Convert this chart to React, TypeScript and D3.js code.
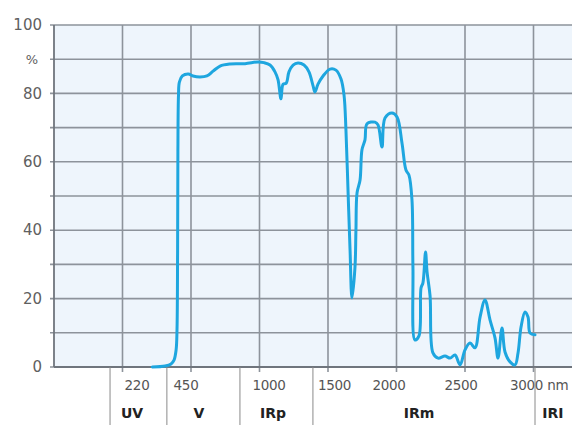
import React from "react";
import * as d3 from "d3";

// wavelength tick values (nm), evenly spaced on the axis
const xTickValues = [220, 450, 1000, 1500, 2000, 2500, 3000];
const xTickLabels = ["220", "450", "1000", "1500", "2000", "2500", "3000 nm"];
const yTickValues = [0, 20, 40, 60, 80, 100];
const yTickLabels = ["0", "20", "40", "60", "80", "100"];
const bandNames = ["UV", "V", "IRp", "IRm", "IRI"];
const bandCenters = [252, 514, 1099, 2164, 3142]; // nm, label positions
const bandEdges = [180, 369, 843, 1390, 3011]; // nm, separator positions

const wavelength = [
  320, 363, 383, 393, 400, 403, 405, 406, 408, 411, 421, 441, 466, 522, 578, 627, 683, 763, 884, 988,
  1033, 1077, 1113, 1135, 1157, 1172, 1195, 1215, 1245, 1281, 1325, 1361, 1391, 1405, 1427, 1464, 1515, 1558, 1595, 1617,
  1631, 1646, 1661, 1675, 1697, 1704, 1712, 1734, 1748, 1770, 1785, 1843, 1865, 1894, 1916, 1967, 2004, 2040, 2069, 2091,
  2113, 2120, 2135, 2164, 2179, 2193, 2212, 2223, 2245, 2266, 2303, 2354, 2391, 2427, 2464, 2500, 2537, 2573, 2610, 2646,
  2683, 2719, 2741, 2770, 2792, 2829, 2865, 2887, 2909, 2938, 2960, 2975, 3011,
];
const transmission = [
  0, 0.3, 0.9, 2.0, 5.0, 10.8, 34, 63, 79.5, 83.3, 85.1, 85.7, 85.1, 84.8, 85.1, 86.5, 88.0, 88.6, 88.7, 89.2,
  89.0, 88.3, 86.3, 84, 78.4, 82.7, 83.0, 86.3, 88.3, 88.9, 88.3, 86.3, 82.2, 80.4, 82.7, 85.1, 87.1, 86.8, 84.2, 79.5,
  69.3, 51.8, 34.2, 20.2, 29.2, 40.1, 50.9, 54.7, 63.5, 66.4, 71.1, 71.6, 70.8, 64.3, 72.8, 74.3, 73.1, 65.5, 57.6, 56.1,
  48.8, 29.2, 7.9, 9.1, 23.1, 24.6, 33.6, 27.8, 20.8, 4.1, 2.6, 3.2, 2.6, 3.5, 0.6, 5.0, 7.0, 5.6, 14.6, 19.6,
  13.7, 8.5, 2.6, 11.4, 4.4, 1.5, 0.6, 4.1, 11.7, 16.1, 14.6, 9.9, 9.4,
];

const W = 572;
const H = 425;
const left = 54;
const top = 25;
const bottom = 367;
const step = 68.5;
const labelShift = [14.5, -5, 9.5, 6.5, -7.5, -4, -23.5];

export default function App() {
  const xDomain = [0, ...xTickValues, 3500];
  const xRange = xDomain.map((_, i) => left + i * step);
  const x = d3.scaleLinear().domain(xDomain).range(xRange);
  const y = d3.scaleLinear().domain([0, 100]).range([bottom, top]);

  const data = wavelength.map((w, i) => [w, transmission[i]] as [number, number]);
  const line = d3
    .line<[number, number]>()
    .x((d) => x(d[0]))
    .y((d) => y(d[1]))
    .curve(d3.curveCatmullRom.alpha(0.5));

  const yGrid = d3.range(0, 101, 10);
  const gridColor = "#8d939b";
  const font = "'DejaVu Sans', sans-serif";

  return (
    <svg width={W} height={H} style={{ position: "absolute", left: 0, top: 0 }}>
      <rect x={0} y={0} width={W} height={H} fill="#ffffff" />
      <rect x={left} y={top} width={W - left} height={bottom - top} fill="#eef5fc" />
      {yGrid.map((v) => (
        <line key={"h" + v} x1={left - 4} x2={W} y1={y(v)} y2={y(v)} stroke={gridColor} strokeWidth={1.6} />
      ))}
      {xTickValues.map((v) => (
        <line key={"v" + v} x1={x(v)} x2={x(v)} y1={top} y2={bottom + 5} stroke={gridColor} strokeWidth={1.6} />
      ))}
      <line x1={left} x2={left} y1={top} y2={bottom} stroke="#6f757d" strokeWidth={1.8} />
      <line x1={left} x2={W} y1={bottom} y2={bottom} stroke="#6f757d" strokeWidth={1.8} />
      {bandEdges.map((v) => (
        <line key={"b" + v} x1={x(v)} x2={x(v)} y1={bottom} y2={H} stroke="#8a8a8a" strokeWidth={1} />
      ))}
      <path d={line(data) || ""} fill="none" stroke="#1ea6df" strokeWidth={3} strokeLinejoin="round" strokeLinecap="round" />
      {yTickValues.map((v, i) => (
        <text key={"yl" + v} x={42} y={y(v)} dy="0.35em" textAnchor="end" fontFamily={font} fontSize={15} fill="#606060">
          {yTickLabels[i]}
        </text>
      ))}
      <text x={38} y={y(90)} dy="0.35em" textAnchor="end" fontFamily={font} fontSize={13} fill="#606060">
        %
      </text>
      {xTickValues.map((v, i) => (
        <text
          key={"xl" + v}
          x={x(v) + labelShift[i]}
          y={390}
          textAnchor={i === 6 ? "start" : "middle"}
          fontFamily={font}
          fontSize={13.5}
          fill="#555"
          letterSpacing={-0.3}
        >
          {xTickLabels[i]}
        </text>
      ))}
      {bandNames.map((n, i) => (
        <text key={n} x={x(bandCenters[i])} y={418} textAnchor="middle" fontFamily={font} fontSize={14} fontWeight="bold" fill="#222">
          {n}
        </text>
      ))}
    </svg>
  );
}
